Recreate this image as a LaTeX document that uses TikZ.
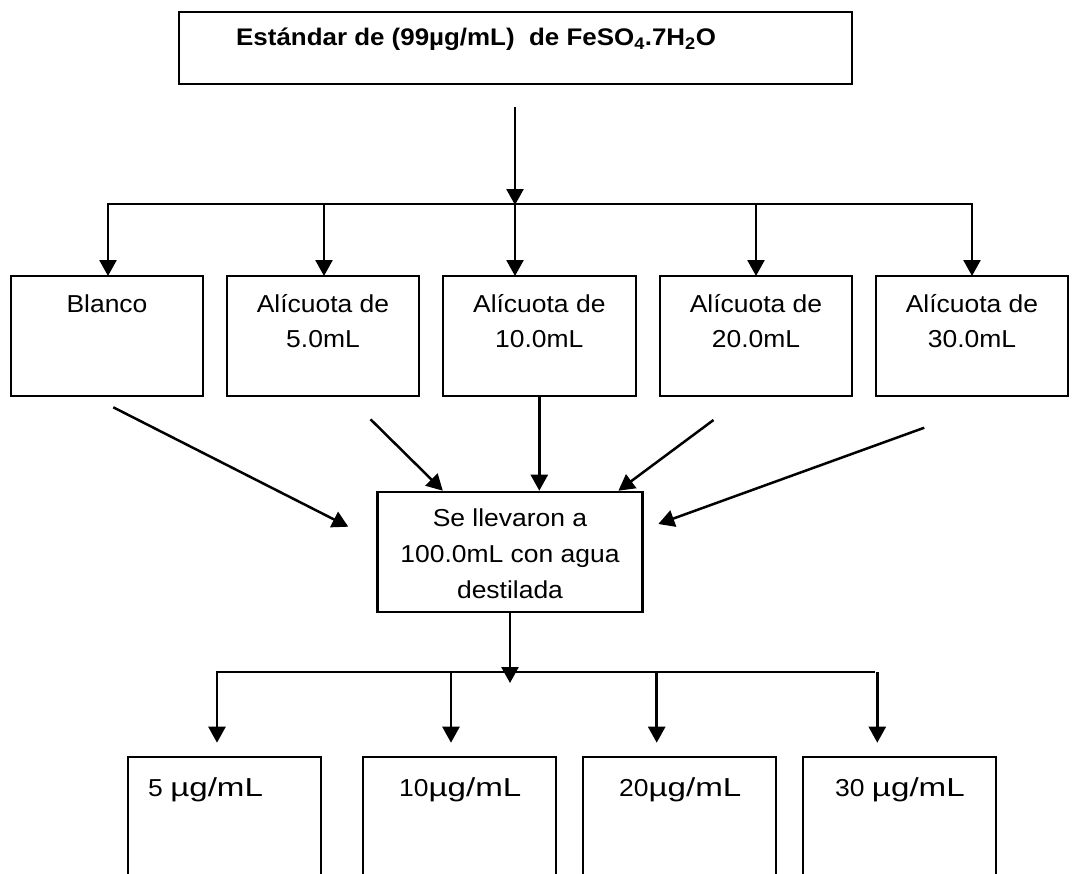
\documentclass[tikz,border=0pt]{standalone}
\usepackage{fontspec}
\usepackage{graphicx}
\setmainfont{Liberation Sans}[FakeStretch=1.08]
\usetikzlibrary{arrows.meta}

\tikzset{
  box/.style={draw, line width=2.2pt, inner sep=0pt, outer sep=0pt, anchor=north west},
  flow/.style={line width=2.5pt, -{Triangle[length=16pt,width=17pt]}},
  rail/.style={line width=2.5pt, line cap=rect},
  txt/.style={inner sep=0pt, anchor=base, font=\fontsize{24.5}{36}\selectfont},
  conc/.style={inner sep=0pt, anchor=base west, font=\fontsize{24.5}{36}\selectfont},
}
% units wider than the digits in the concentration labels
\newcommand{\ugml}{{\fontsize{26}{30}\selectfont\scalebox{1.18}[1]{µg/mL}}}

\begin{document}
\begin{tikzpicture}[x=1pt, y=-1pt]
\clip (0,0) rectangle (1081,873);

% stock solution
\node[box, minimum width=673pt, minimum height=72pt] (stock) at (179,12) {};
\node[inner sep=0pt, anchor=base west, font=\bfseries\fontsize{24}{28}\selectfont] (stocktxt) at (236,45.7)
  {Estándar de (99µg/mL)\ \ de FeSO\textsubscript{4}.7H\textsubscript{2}O};

% aliquot boxes
\node[box, minimum width=192pt, minimum height=120pt] (b1) at (11,276) {};
\node[box, minimum width=192pt, minimum height=120pt] (b2) at (227,276) {};
\node[box, minimum width=192.6pt, minimum height=120pt] (b3) at (443,276) {};
\node[box, minimum width=192pt, minimum height=120pt] (b4) at (660,276) {};
\node[box, minimum width=192pt, minimum height=120pt] (b5) at (876,276) {};

\node[txt] (t1) at (b1.north |- 0,312) {Blanco};
\node[txt] (t2a) at (b2.north |- 0,312) {Alícuota de};
\node[txt] (t2b) at (b2.north |- 0,347) {5.0mL};
\node[txt] (t3a) at (b3.north |- 0,312) {Alícuota de};
\node[txt] (t3b) at (b3.north |- 0,347) {10.0mL};
\node[txt] (t4a) at (b4.north |- 0,312) {Alícuota de};
\node[txt] (t4b) at (b4.north |- 0,347) {20.0mL};
\node[txt] (t5a) at (b5.north |- 0,312) {Alícuota de};
\node[txt] (t5b) at (b5.north |- 0,347) {30.0mL};

% dilution box
\node[box, minimum width=265pt, minimum height=120pt] (dil) at (377.5,492) {};
\node[txt] (d1) at (510,526.7) {Se llevaron a};
\node[txt] (d2) at (510,562.7) {100.0mL con agua};
\node[txt] (d3) at (510,598.7) {destilada};

% standard boxes
\node[box, minimum width=192.7pt, minimum height=160pt] (r1) at (128.3,756.7) {};
\node[box, minimum width=192.7pt, minimum height=160pt] (r2) at (363.3,756.7) {};
\node[box, minimum width=192.7pt, minimum height=160pt] (r3) at (583.3,756.7) {};
\node[box, minimum width=192.7pt, minimum height=160pt] (r4) at (803.3,756.7) {};

\node[conc] (c1) at (148,796.7) {5 \ugml};
\node[conc] (c2) at (399,796.7) {10\ugml};
\node[conc] (c3) at (619,796.7) {20\ugml};
\node[conc] (c4) at (835,796.7) {30 \ugml};

% distribution from the stock
\coordinate (s0) at (515,107);
\coordinate (h1) at (108,204);
\coordinate (h2) at (324,204);
\coordinate (h3) at (515,204);
\coordinate (h4) at (756,204);
\coordinate (h5) at (972,204);
\draw[rail] (h1) -- (h5);
\draw[flow] (s0) -- ([yshift=-1pt]h3);
\draw[flow] (h1) -- (h1 |- b1.north);
\draw[flow] (h2) -- (h2 |- b2.north);
\draw[flow] (h3) -- (h3 |- b3.north);
\draw[flow] (h4) -- (h4 |- b4.north);
\draw[flow] (h5) -- (h5 |- b5.north);

% aliquots into the dilution step
\coordinate (a1) at (113.3,407.3);
\coordinate (a2) at (370.5,419.3);
\coordinate (a4) at (713.5,420);
\coordinate (a5) at (924.3,427.7);
\coordinate (e1) at (348.3,526.7);
\coordinate (e2) at (442.8,490.7);
\coordinate (e4) at (618.4,490.7);
\coordinate (e5) at (658.3,524);
\draw[flow] (a1) -- (e1);
\draw[flow] (a2) -- (e2);
\draw[flow] (b3.south) -- (b3.south |- 0,490.7);
\draw[flow] (a4) -- (e4);
\draw[flow] (a5) -- (e5);

% distribution to the standards
\coordinate (g1) at (217,672);
\coordinate (g2) at (451,672);
\coordinate (g3) at (656.7,672);
\coordinate (g4) at (877.3,672);
\draw[rail] (g1) -- (874,672);
\draw[flow] (g1) -- (g1 |- 0,742.7);
\draw[flow] (g2) -- (g2 |- 0,742.7);
\draw[flow] (g3) -- (g3 |- 0,742.7);
\draw[flow] (g4) -- (g4 |- 0,742.7);
\draw[flow] (dil.south) -- (dil.south |- 0,683);

\end{tikzpicture}
\end{document}
